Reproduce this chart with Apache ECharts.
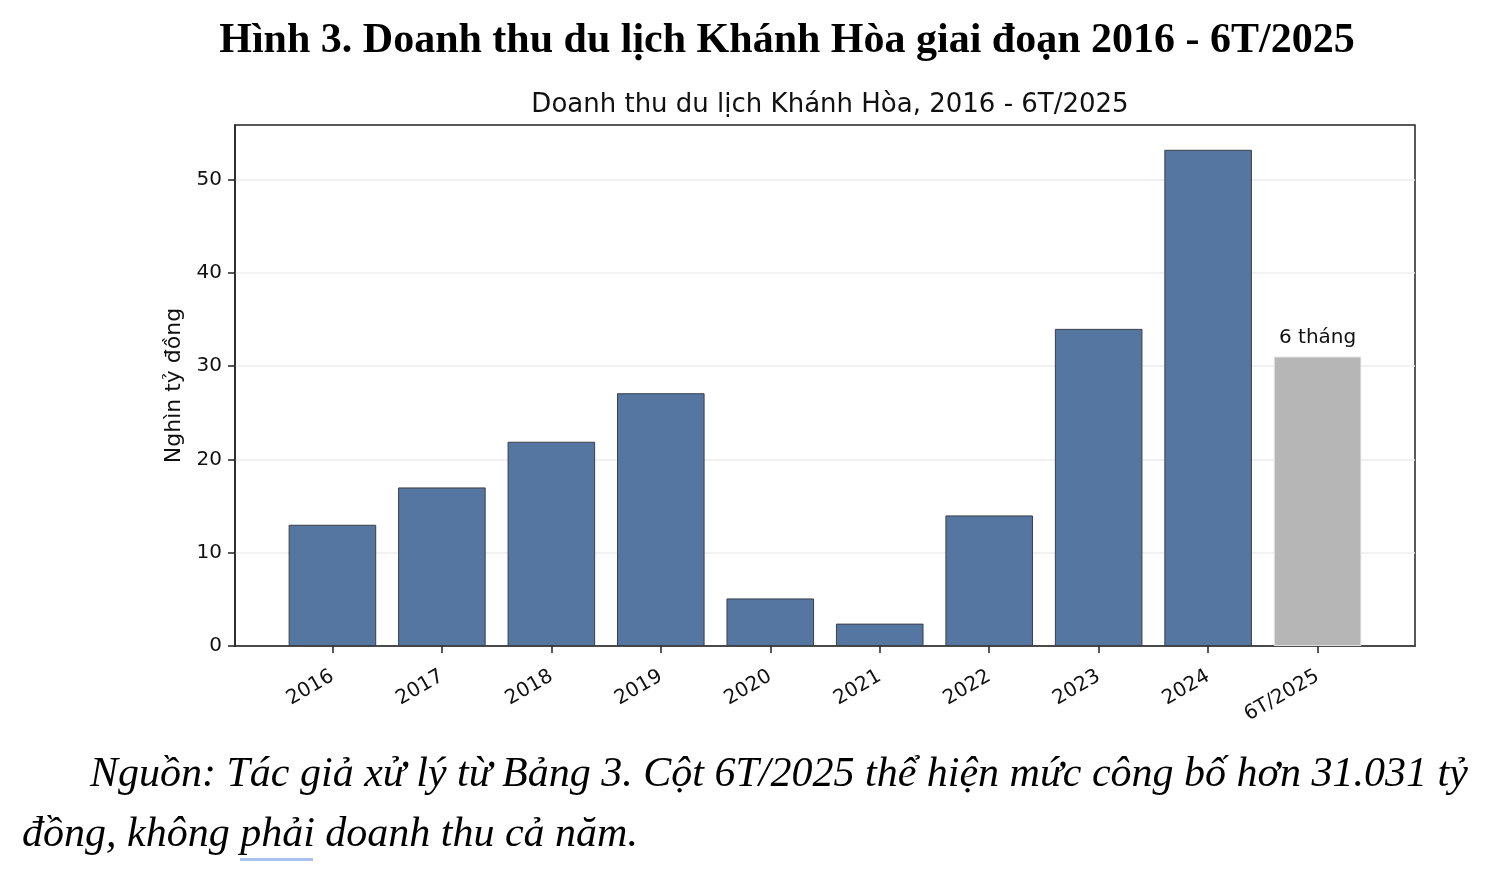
<!DOCTYPE html>
<html>
<head>
<meta charset="utf-8">
<title>Doanh thu du lịch Khánh Hòa</title>
<script src="https://cdn.jsdelivr.net/npm/echarts@6/dist/echarts.min.js"></script>
<style>
  html, body { margin: 0; padding: 0; background: #fff; }
  #chart { width: 1500px; height: 871px; }
</style>
</head>
<body>
<div id="chart"></div>
<script>
  // data
  const categories = ['2016', '2017', '2018', '2019', '2020', '2021', '2022', '2023', '2024', '6T/2025'];
  const revenue = [13.0, 17.0, 21.9, 27.1, 5.1, 2.4, 14.0, 34.0, 53.2, 31.031];
  const partialIndex = 9; // cột 6 tháng
  const yTicks = [0, 10, 20, 30, 40, 50];

  const headText = 'Hình 3. Doanh thu du lịch Khánh Hòa giai đoạn 2016 - 6T/2025';
  const chartTitle = 'Doanh thu du lịch Khánh Hòa, 2016 - 6T/2025';
  const yName = 'Nghìn tỷ đồng';
  const partialLabel = '6 tháng';
  const noteLine1 = 'Nguồn: Tác giả xử lý từ Bảng 3. Cột 6T/2025 thể hiện mức công bố hơn 31.031 tỷ';
  const noteLine2 = 'đồng, không phải doanh thu cả năm.';

  // layout
  const grid = { left: 235, right: 85, top: 125, bottom: 225 };
  const xMin = -0.89, xMax = categories.length - 1 + 0.89;
  const yMax = Math.max(...revenue) * 1.05;
  const gridWidth = 1500 - grid.left - grid.right;
  const barWidth = gridWidth / (xMax - xMin) * 0.8;

  const chart = echarts.init(document.getElementById('chart'));
  const font = 'DejaVu Sans';
  const serif = '"Liberation Serif", "Times New Roman", serif';

  const barData = revenue.map((v, i) => {
    const isPartial = i === partialIndex;
    return {
      value: [i, v],
      itemStyle: isPartial
        ? { color: '#b6b6b6', borderColor: '#e2e2e2', borderWidth: 1 }
        : { color: '#5676a2', borderColor: '#3a3f48', borderWidth: 1 },
      label: { show: isPartial }
    };
  });

  const option = {
    backgroundColor: '#fff',
    animation: false,
    title: {
      text: chartTitle,
      left: (grid.left + 1500 - grid.right) / 2,
      textAlign: 'center',
      top: 87,
      textStyle: { fontFamily: font, fontSize: 26, fontWeight: 'normal', color: '#111' }
    },
    grid: {
      ...grid,
      show: true,
      borderColor: '#222',
      borderWidth: 1.5,
      backgroundColor: 'transparent'
    },
    xAxis: {
      type: 'value',
      min: xMin,
      max: xMax,
      splitLine: { show: false },
      axisLine: { show: true, onZero: false, lineStyle: { color: '#222', width: 1.5 } },
      axisTick: { show: true, length: 7, customValues: categories.map((c, i) => i), lineStyle: { color: '#222', width: 1.5 } },
      axisLabel: {
        customValues: categories.map((c, i) => i),
        formatter: v => categories[Math.round(v)],
        rotate: 30,
        margin: 29,
        fontFamily: font,
        fontSize: 20,
        color: '#111'
      }
    },
    yAxis: {
      type: 'value',
      min: 0,
      max: yMax,
      name: yName,
      nameLocation: 'middle',
      nameGap: 50,
      nameTextStyle: { fontFamily: font, fontSize: 22, color: '#111' },
      axisLine: { show: true, onZero: false, lineStyle: { color: '#222', width: 1.5 } },
      axisTick: { show: true, length: 7, customValues: yTicks, lineStyle: { color: '#222', width: 1.5 } },
      axisLabel: { customValues: yTicks, margin: 13, fontFamily: font, fontSize: 20, color: '#111' },
      splitLine: { show: true, lineStyle: { color: '#ececec', width: 1.5 } }
    },
    series: [{
      type: 'bar',
      barWidth: barWidth,
      data: barData,
      label: {
        position: 'top',
        distance: 9,
        formatter: () => partialLabel,
        fontFamily: font,
        fontSize: 20,
        color: '#111'
      }
    }],
    graphic: [
      {
        type: 'text',
        x: 787,
        y: 20,
        style: {
          text: headText,
          textAlign: 'center',
          textVerticalAlign: 'top',
          font: 'bold 42px ' + serif,
          fill: '#000'
        }
      },
      {
        type: 'text',
        x: 90,
        y: 754,
        style: { text: noteLine1, textVerticalAlign: 'top', font: 'italic 42px ' + serif, fill: '#000' }
      },
      {
        type: 'text',
        x: 22,
        y: 814,
        style: { text: noteLine2, textVerticalAlign: 'top', font: 'italic 42px ' + serif, fill: '#000' }
      },
      {
        // gạch chân kiểm tra chính tả dưới chữ "phải"
        type: 'rect',
        x: 240,
        y: 858,
        shape: { width: 73, height: 3 },
        style: { fill: '#aac0ee' }
      }
    ]
  };

  chart.setOption(option);
</script>
</body>
</html>
